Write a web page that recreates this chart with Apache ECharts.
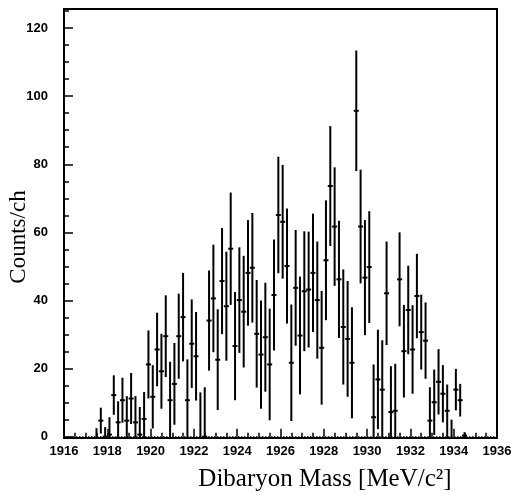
<!DOCTYPE html>
<html>
<head>
<meta charset="utf-8">
<script src="https://cdn.jsdelivr.net/npm/echarts@6/dist/echarts.min.js"></script>
<style>html,body{margin:0;padding:0;background:#fff}#c{width:514px;height:495px}</style>
</head>
<body>
<div id="c"></div>
<script>
// Bin centres (MeV/c^2)
var mass = [1917.5,1917.7,1917.9,1918.1,1918.3,1918.5,1918.7,1918.9,1919.1,1919.3,
1919.5,1919.7,1919.9,1920.1,1920.3,1920.5,1920.7,1920.9,1921.1,1921.3,
1921.5,1921.7,1921.9,1922.1,1922.3,1922.5,1922.7,1922.9,1923.1,1923.3,
1923.5,1923.7,1923.9,1924.1,1924.3,1924.5,1924.7,1924.9,1925.1,1925.3,
1925.5,1925.7,1925.9,1926.1,1926.3,1926.5,1926.7,1926.9,1927.1,1927.3,
1927.5,1927.7,1927.9,1928.1,1928.3,1928.5,1928.7,1928.9,1929.1,1929.3,
1929.5,1929.7,1929.9,1930.1,1930.3,1930.5,1930.7,1930.9,1931.1,1931.3,
1931.5,1931.7,1931.9,1932.1,1932.3,1932.5,1932.7,1932.9,1933.1,1933.3,
1933.5,1933.7,1933.9,1934.1,1934.3,1934.5];
// Counts per channel
var counts = [-1.5,4.7,0,0.6,12.2,4.2,10.7,4.7,11.2,4.2,
0.6,5.2,21.2,11.7,25.6,19.2,29.5,10.7,15.5,29.5,
35.1,10.7,27.3,23.6,-1,0,34.1,40.6,22.6,45.7,
38.3,55.2,26.6,40.1,36.7,48.1,49.6,30.2,24.1,29.2,
21.2,41.6,65.1,63.1,50.1,21.7,43.7,29.7,42.7,43.2,
48.1,40.1,26.1,51.8,73.6,61.7,46.2,32.2,28.7,21.7,
95.7,61.7,46.7,49.8,5.7,16.8,13.8,42.1,7.2,7.6,
46.2,25.1,37.2,25.6,41.3,30.7,28.2,4.7,10.1,16.1,
12.6,7.6,-2,13.8,10.7,0.3];
// Statistical errors
var errors = [4,3.8,2.8,5.1,5.8,6.2,6.6,7.2,7.5,7.7,
8.1,7.9,10,9.3,10.8,11,12,11.3,12,12.5,
13,12,13,13,14,14.5,14.7,15.8,14.8,15.6,
16,16.5,15.9,15.5,16.4,15.5,16.1,15.8,15.9,16,
16.4,16.3,17.1,16.7,16.9,17.1,17,17.3,17.6,17,
17.4,17.2,16.7,17.6,17.6,17.4,17.2,16.9,17,16.3,
17.7,16.7,16.9,16.4,15.5,14.6,14.5,15.2,13.5,13.8,
13.8,13.6,13,13,12.4,11,11.2,9.8,9.6,9.6,
8.4,7.7,7,6.1,4.8,1];
var yMajorTicks = [0,20,40,60,80,100,120];
var yMinorTicks = [5,10,15,25,30,35,45,50,55,65,70,75,85,90,95,105,110,115,125];

var data = mass.map(function(m,i){ return [m, counts[i], errors[i]]; });

var chart = echarts.init(document.getElementById('c'), null, {renderer:'canvas'});
var labelFont = {fontFamily:'Liberation Sans', fontWeight:'bold', fontSize:13, color:'#000'};
chart.setOption({
  animation:false,
  grid:{left:64, right:17, top:9, bottom:57, show:true, borderColor:'#000', borderWidth:2, outerBoundsMode:'none'},
  xAxis:{type:'value', min:1916, max:1936, interval:2,
    axisLine:{show:false},
    axisTick:{inside:true, length:8, lineStyle:{color:'#000', width:1.5}},
    minorTick:{show:true, splitNumber:4, length:4, lineStyle:{color:'#000', width:1.5}},
    splitLine:{show:false},
    axisLabel:Object.assign({margin:7, formatter:function(v){ return String(v); }}, labelFont)},
  yAxis:[{type:'value', min:-0.4, max:125.6,
    axisLine:{show:false},
    axisTick:{inside:true, length:9, customValues:yMajorTicks, lineStyle:{color:'#000', width:1.5}},
    splitLine:{show:false},
    axisLabel:Object.assign({margin:16, customValues:yMajorTicks}, labelFont)},
   {type:'value', min:-0.4, max:125.6, position:'left', offset:0,
    axisLine:{show:false},
    axisTick:{inside:true, length:5, customValues:yMinorTicks, lineStyle:{color:'#000', width:1.5}},
    splitLine:{show:false},
    axisLabel:{show:false}}],
  series:[{
    type:'custom', clip:true, yAxisIndex:0,
    data:data,
    renderItem:function(params, api){
      var x = api.value(0), v = api.value(1), e = api.value(2);
      var top = api.coord([x, v+e]);
      var bot = api.coord([x, v-e]);
      var c = api.coord([x, v]);
      var children = [{type:'line', shape:{x1:top[0], y1:top[1], x2:bot[0], y2:bot[1]},
        style:{stroke:'#000', lineWidth:2}}];
      if (v >= 0) {
        children.push({type:'line', shape:{x1:c[0]-2.5, y1:c[1], x2:c[0]+2.5, y2:c[1]},
          style:{stroke:'#000', lineWidth:2}});
      }
      return {type:'group', children:children};
    },
    markLine:{silent:true, symbol:'none', label:{show:false},
      lineStyle:{color:'#000', type:'dotted', width:1.5},
      data:[{yAxis:0}]}
  }],
  graphic:[
    {type:'text', x:19, y:237, rotation:Math.PI/2,
      style:{text:'Counts/ch', font:'23px "Liberation Serif"', fill:'#000', textAlign:'center', textVerticalAlign:'middle'}},
    {type:'text', x:325, y:479,
      style:{text:'Dibaryon Mass [MeV/c\u00b2]', font:'25px "Liberation Serif"', fill:'#000', textAlign:'center', textVerticalAlign:'middle'}}
  ]
});
</script>
</body>
</html>
